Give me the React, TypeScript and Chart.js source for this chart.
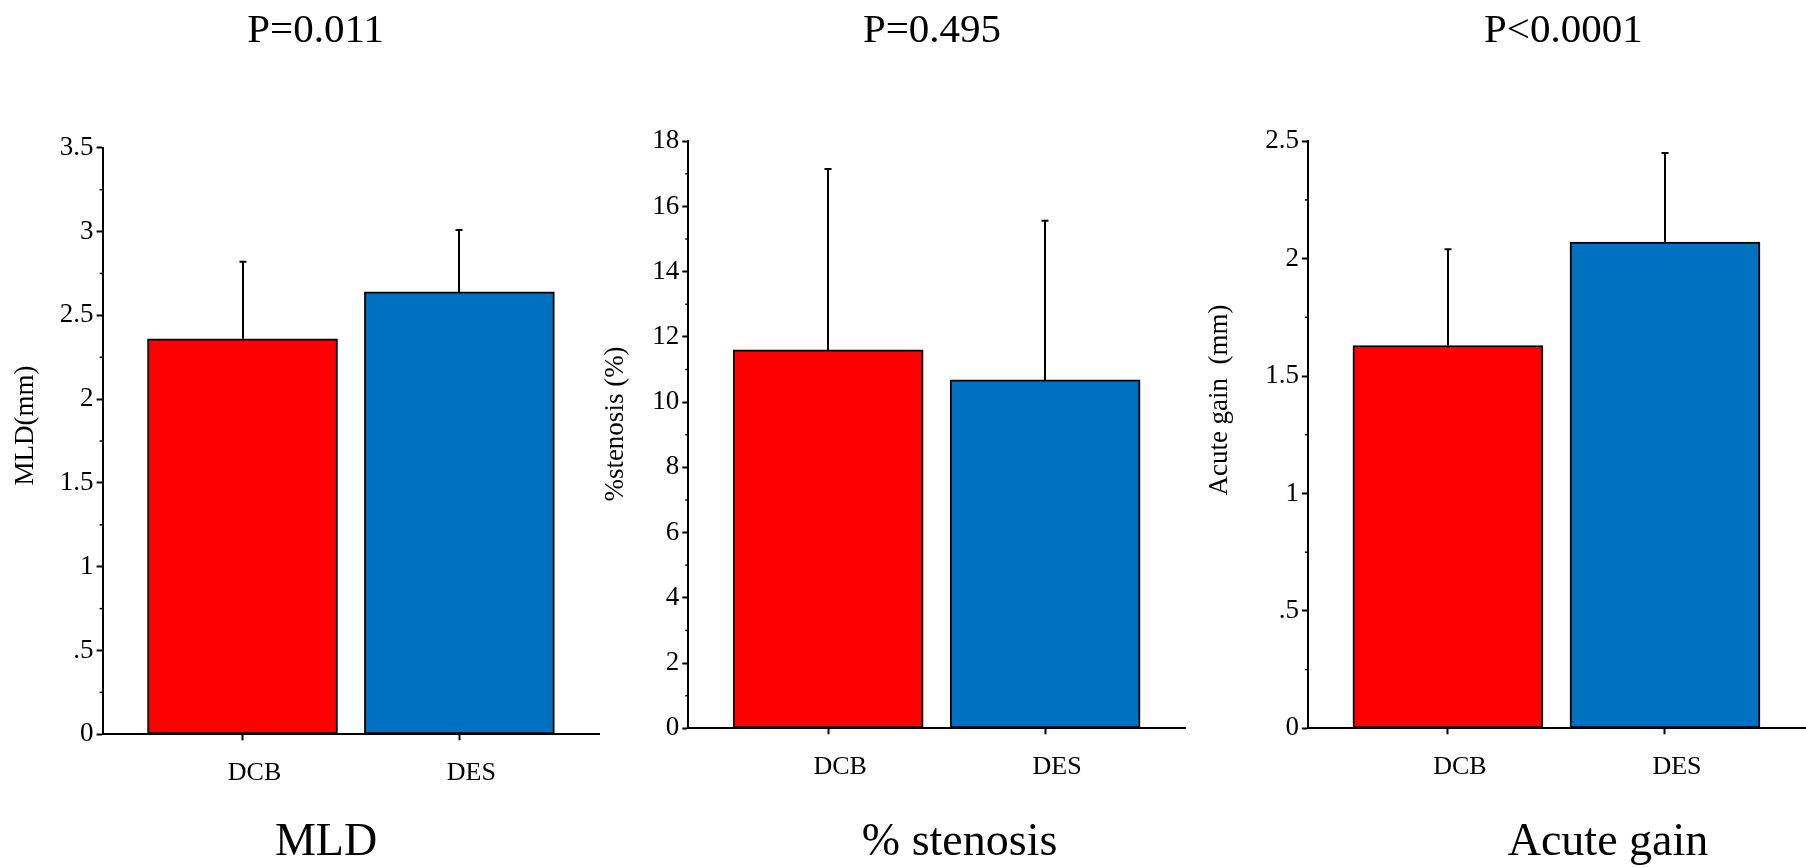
import React, { useEffect, useRef } from 'react';
import { Chart, registerables } from 'chart.js';

Chart.register(...registerables);

// ---------- data ----------
const categories = ['DCB', 'DES'];
const barColors = ['#FF0000', '#0070C0'];

const mldMean = [2.36, 2.64];
const mldSD = [0.46, 0.37];
const stenosisMean = [11.6, 10.68];
const stenosisSD = [5.55, 4.88];
const gainMean = [1.63, 2.07];
const gainSD = [0.41, 0.38];

const mldTicks = ['0', '.5', '1', '1.5', '2', '2.5', '3', '3.5'];
const stenosisTicks = ['0', '2', '4', '6', '8', '10', '12', '14', '16', '18'];
const gainTicks = ['0', '.5', '1', '1.5', '2', '2.5'];

const pValues = ['P=0.011', 'P=0.495', 'P<0.0001'];
const panelNames = ['MLD', '% stenosis', 'Acute gain'];
const yTitles = ['MLD(mm)', '%stenosis (%)', 'Acute gain  (mm)'];

// ---------- layout / style ----------
const FONT = "'Liberation Serif', 'Times New Roman', Times, serif";
const H = 867;

const panels = [
  {
    left: 0, width: 600, mean: mldMean, sd: mldSD, ticks: mldTicks, minor: 0.25,
    padL: 0, padR: 0.7, padT: 147.8, yWidth: 102.6, xHeight: H - 734.3,
    pX: 315.6, nameX: 326, yTitleX: 25.8, yTitleY: 425.5,
  },
  {
    left: 600, width: 590, mean: stenosisMean, sd: stenosisSD, ticks: stenosisTicks, minor: 1,
    padL: 0, padR: 5, padT: 141.2, yWidth: 88.3, xHeight: H - 728.3,
    pX: 332, nameX: 359.6, yTitleX: 16, yTitleY: 424,
  },
  {
    left: 1190, width: 616, mean: gainMean, sd: gainSD, ticks: gainTicks, minor: 0.25,
    padL: 0, padR: 1, padT: 141.2, yWidth: 117.9, xHeight: H - 728.3,
    pX: 373.4, nameX: 418, yTitleX: 29.5, yTitleY: 400,
  },
];

const errorBarPlugin = {
  id: 'errorBars',
  afterDatasetsDraw(chart: any, _args: any, opts: any) {
    const meta = chart.getDatasetMeta(0);
    const ys = chart.scales.y;
    const ctx = chart.ctx;
    ctx.save();
    ctx.strokeStyle = '#000';
    ctx.lineWidth = 2;
    meta.data.forEach((bar: any, i: number) => {
      const v = chart.data.datasets[0].data[i].y;
      const yTop = ys.getPixelForValue(v + opts.sd[i]);
      const x = Math.round(bar.x);
      ctx.beginPath();
      ctx.moveTo(x, bar.y);
      ctx.lineTo(x, yTop);
      ctx.moveTo(x - 3.5, yTop);
      ctx.lineTo(x + 3.5, yTop);
      ctx.stroke();
    });
    ctx.restore();
  },
};

const minorTickPlugin = {
  id: 'minorTicks',
  afterDraw(chart: any, _args: any, opts: any) {
    const ys = chart.scales.y;
    const ctx = chart.ctx;
    const left = chart.chartArea.left;
    const major = opts.major;
    ctx.save();
    ctx.strokeStyle = '#000';
    ctx.lineWidth = 1.5;
    for (let v = opts.step; v < ys.max - 1e-9; v += opts.step) {
      const r = v / major;
      if (Math.abs(r - Math.round(r)) < 1e-6) continue;
      const py = ys.getPixelForValue(v);
      ctx.beginPath();
      ctx.moveTo(left - 3, py);
      ctx.lineTo(left, py);
      ctx.stroke();
    }
    ctx.restore();
  },
};

const textPlugin = {
  id: 'panelText',
  afterDraw(chart: any, _args: any, opts: any) {
    const ctx = chart.ctx;
    ctx.save();
    ctx.fillStyle = '#000';
    ctx.textAlign = 'center';
    ctx.textBaseline = 'alphabetic';
    ctx.font = `41px ${FONT}`;
    ctx.fillText(opts.p, opts.pX, 41.7);
    ctx.font = `46px ${FONT}`;
    ctx.fillText(opts.name, opts.nameX, 855);
    ctx.translate(opts.yTitleX, opts.yTitleY);
    ctx.rotate(-Math.PI / 2);
    ctx.font = `27px ${FONT}`;
    ctx.textBaseline = 'middle';
    ctx.fillText(opts.yTitle, 0, 0);
    ctx.restore();
  },
};

function Panel({ idx }: { idx: number }) {
  const ref = useRef<HTMLCanvasElement | null>(null);
  const p = panels[idx];
  useEffect(() => {
    if (!ref.current) return;
    const tickVals = p.ticks.map((t) => parseFloat(t));
    const axisCommon = {
      grid: {
        display: true, drawOnChartArea: false, drawTicks: true, tickLength: 6,
        tickWidth: 2, tickColor: '#000', color: '#000', offset: false,
      },
      border: { display: true, color: '#000', width: 2 },
    };
    const chart = new Chart(ref.current, {
      type: 'bar',
      data: {
        datasets: [
          {
            data: categories.map((_, i) => ({ x: i + 1, y: p.mean[i] })),
            backgroundColor: barColors,
            borderColor: '#000',
            borderWidth: 2,
            borderSkipped: false,
            barThickness: 190,
          } as any,
        ],
      },
      options: {
        responsive: false,
        animation: false,
        events: [],
        layout: { padding: { left: p.padL, right: p.padR, top: p.padT, bottom: 0 } },
        plugins: {
          legend: { display: false },
          tooltip: { enabled: false },
          title: { display: false },
          errorBars: { sd: p.sd },
          minorTicks: { step: p.minor, major: tickVals[1] },
          panelText: {
            p: pValues[idx], pX: p.pX, name: panelNames[idx], nameX: p.nameX,
            yTitle: yTitles[idx], yTitleX: p.yTitleX, yTitleY: p.yTitleY,
          },
        } as any,
        scales: {
          x: {
            type: 'linear',
            min: 0.355,
            max: 2.645,
            offset: false,
            afterBuildTicks: (s: any) => {
              s.ticks = categories.map((_, i) => ({ value: i + 1 }));
            },
            afterFit: (s: any) => { s.height = p.xHeight; },
            ticks: {
              callback: (_v: any, i: number) => categories[i],
              color: '#000',
              font: { family: FONT, size: 26 },
              padding: 17,
              labelOffset: 12,
              maxRotation: 0,
              autoSkip: false,
            },
            ...axisCommon,
          } as any,
          y: {
            type: 'linear',
            min: 0,
            max: tickVals[tickVals.length - 1],
            afterBuildTicks: (s: any) => {
              s.ticks = tickVals.map((v) => ({ value: v }));
            },
            afterFit: (s: any) => { s.width = p.yWidth; },
            ticks: {
              callback: (_v: any, i: number) => p.ticks[i],
              color: '#000',
              font: { family: FONT, size: 27 },
              padding: 3,
              autoSkip: false,
            },
            ...axisCommon,
          } as any,
        },
      },
      plugins: [errorBarPlugin, minorTickPlugin, textPlugin],
    });
    return () => chart.destroy();
  }, []);
  return (
    <canvas
      ref={ref}
      width={p.width}
      height={H}
      style={{ position: 'absolute', left: p.left, top: 0, width: p.width, height: H }}
    />
  );
}

export default function App() {
  return (
    <div
      style={{
        position: 'fixed', left: 0, top: 0, width: 1806, height: H,
        background: '#fff', overflow: 'hidden',
      }}
    >
      <Panel idx={0} />
      <Panel idx={1} />
      <Panel idx={2} />
    </div>
  );
}
